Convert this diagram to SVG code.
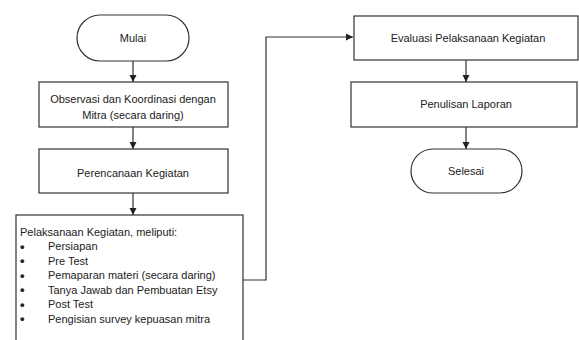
<svg xmlns="http://www.w3.org/2000/svg" width="579" height="340" viewBox="0 0 579 340">
<defs>
<style>
.box{fill:#fff;stroke:#333;stroke-width:1.2}
.t{font-family:"Liberation Sans",Arial,sans-serif;font-size:11px;fill:#222}
.c{text-anchor:middle}
.b{font-size:13px;font-weight:bold}
.ln{fill:none;stroke:#333;stroke-width:1.2}
</style>
<marker id="ah" markerWidth="8" markerHeight="8" refX="7" refY="4" orient="auto" markerUnits="userSpaceOnUse">
<path d="M0,0.5 L7,4 L0,7.5 Z" fill="#222"/>
</marker>
</defs>
<rect width="579" height="340" fill="#fff"/>
<g id="connectors">
<line class="ln" x1="133" y1="61" x2="133" y2="82" marker-end="url(#ah)"/>
<line class="ln" x1="133" y1="127" x2="133" y2="149" marker-end="url(#ah)"/>
<line class="ln" x1="133" y1="193" x2="133" y2="215" marker-end="url(#ah)"/>
<polyline class="ln" points="243,280 266,280 266,37 353,37" marker-end="url(#ah)"/>
<line class="ln" x1="466" y1="60" x2="466" y2="82" marker-end="url(#ah)"/>
<line class="ln" x1="466" y1="127" x2="466" y2="149" marker-end="url(#ah)"/>
</g>
<g id="mulai">
<rect class="box" x="77" y="15" width="112" height="46" rx="23" ry="23"/>
<text class="t c" x="133" y="42">Mulai</text>
</g>
<g id="observasi">
<rect class="box" x="39" y="82" width="189" height="45"/>
<text class="t c" x="133" y="103">Observasi dan Koordinasi dengan</text>
<text class="t c" x="133" y="119">Mitra (secara daring)</text>
</g>
<g id="perencanaan">
<rect class="box" x="39" y="149" width="189" height="44"/>
<text class="t c" x="133" y="177">Perencanaan Kegiatan</text>
</g>
<g id="pelaksanaan">
<rect class="box" x="16" y="215" width="227" height="140"/>
<text class="t" x="20" y="236">Pelaksanaan Kegiatan, meliputi:</text>
<g class="t">
<text class="b" x="20" y="250.5">•</text><text x="48" y="250">Persiapan</text>
<text class="b" x="20" y="265">•</text><text x="48" y="264.5">Pre Test</text>
<text class="b" x="20" y="279.5">•</text><text x="48" y="279">Pemaparan materi (secara daring)</text>
<text class="b" x="20" y="294">•</text><text x="48" y="293.5">Tanya Jawab dan Pembuatan Etsy</text>
<text class="b" x="20" y="308.5">•</text><text x="48" y="308">Post Test</text>
<text class="b" x="20" y="323">•</text><text x="48" y="322.5">Pengisian survey kepuasan mitra</text>
</g>
</g>
<g id="evaluasi">
<rect class="box" x="354" y="16" width="224" height="44"/>
<text class="t c" x="468" y="42">Evaluasi Pelaksanaan Kegiatan</text>
</g>
<g id="penulisan">
<rect class="box" x="351" y="82" width="226" height="45"/>
<text class="t c" x="466" y="108">Penulisan Laporan</text>
</g>
<g id="selesai">
<rect class="box" x="411" y="149" width="111" height="44" rx="22" ry="22"/>
<text class="t c" x="466" y="175">Selesai</text>
</g>
</svg>
